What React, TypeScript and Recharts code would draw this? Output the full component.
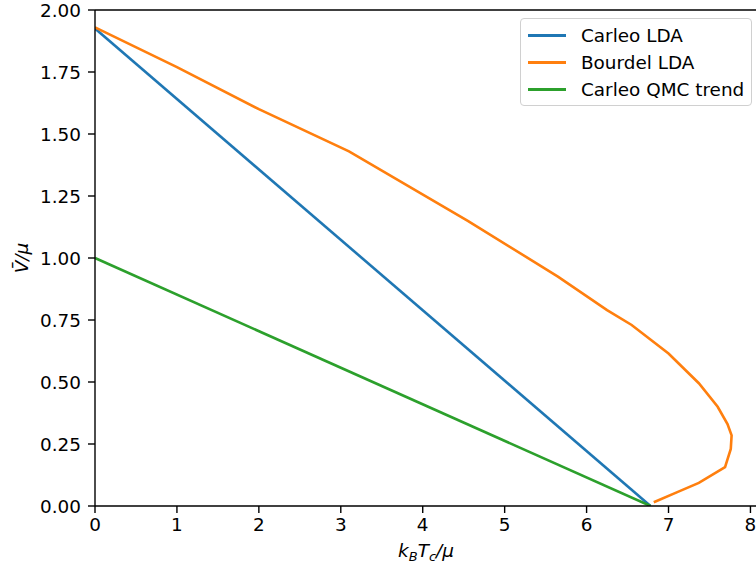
import React from "react";
import { LineChart, Line, XAxis, YAxis, ReferenceLine } from "recharts";

const X_TICKS = [0, 1, 2, 3, 4, 5, 6, 7, 8];
const Y_TICKS = [0, 0.25, 0.5, 0.75, 1.0, 1.25, 1.5, 1.75, 2.0];

const carleoLdaX = [0, 6.78];
const carleoLdaY = [1.925, 0];

const carleoQmcX = [0, 6.78];
const carleoQmcY = [1.0, 0];

const bourdelX = [0, 1.0, 2.0, 3.1, 4.55, 5.65, 6.25, 6.55, 7.0, 7.37, 7.6, 7.72, 7.77, 7.76, 7.69, 7.37, 7.1, 6.82];
const bourdelY = [1.93, 1.77, 1.6, 1.43, 1.15, 0.925, 0.79, 0.73, 0.615, 0.495, 0.4, 0.33, 0.285, 0.23, 0.157, 0.093, 0.055, 0.015];

const SERIES = [
  { name: "Carleo LDA", color: "#1f77b4", xs: carleoLdaX, ys: carleoLdaY },
  { name: "Bourdel LDA", color: "#ff7f0e", xs: bourdelX, ys: bourdelY },
  { name: "Carleo QMC trend", color: "#2ca02c", xs: carleoQmcX, ys: carleoQmcY },
];

const toPoints = (xs: number[], ys: number[]) => xs.map((x, i) => ({ x, y: ys[i] }));

const FONT = "DejaVu Sans";
const FS = 18.4;

const LegendBox = () => (
  <div
    style={{
      position: "absolute",
      left: 520,
      top: 18,
      width: 232,
      height: 88,
      border: "1px solid #d0d0d0",
      borderRadius: 4,
      background: "rgba(255,255,255,0.8)",
      padding: "3px 0 0 7px",
      fontFamily: FONT,
      fontSize: FS,
      color: "#000",
      boxSizing: "border-box",
      lineHeight: "27px",
    }}
  >
    {SERIES.map((s) => (
      <div key={s.name} style={{ display: "flex", alignItems: "center", height: 27, whiteSpace: "nowrap" }}>
        <div style={{ width: 38, height: 2.6, background: s.color, marginRight: 15 }} />
        <span>{s.name}</span>
      </div>
    ))}
  </div>
);

export default function App() {
  return (
    <div style={{ position: "absolute", left: 0, top: 0, width: 756, height: 570, overflow: "hidden", background: "#fff" }}>
      <LineChart width={770} height={570} margin={{ top: 10, right: 13, bottom: 0, left: 0 }}>
        <XAxis
          type="number"
          dataKey="x"
          domain={[0, 8.08]}
          ticks={X_TICKS}
          allowDataOverflow
          stroke="#000"
          tickSize={7}
          tickMargin={5}
          height={64}
          tick={{ fill: "#000", fontSize: FS, fontFamily: FONT }}
          axisLine={{ stroke: "#000", strokeWidth: 1.4 }}
          tickLine={{ stroke: "#000", strokeWidth: 1.4 }}
          label={{
            content: () => (
              <text x={426} y={557} textAnchor="middle" fontFamily={FONT} fontSize={FS} fontStyle="italic" fill="#000">
                k<tspan fontSize={13} dy={4}>B</tspan>
                <tspan dy={-4}>T</tspan>
                <tspan fontSize={13} dy={4}>c</tspan>
                <tspan dy={-4}>/μ</tspan>
              </text>
            ),
          }}
        />
        <YAxis
          type="number"
          domain={[0, 2]}
          ticks={Y_TICKS}
          allowDataOverflow
          width={95}
          stroke="#000"
          tickSize={7}
          tickMargin={7}
          tickFormatter={(v: number) => v.toFixed(2)}
          tick={{ fill: "#000", fontSize: FS, fontFamily: FONT }}
          axisLine={{ stroke: "#000", strokeWidth: 1.4 }}
          tickLine={{ stroke: "#000", strokeWidth: 1.4 }}
          label={{
            content: () => (
              <text
                x={28}
                y={258}
                transform="rotate(-90 28 258)"
                textAnchor="middle"
                fontFamily={FONT}
                fontSize={FS}
                fontStyle="italic"
                fill="#000"
              >
                V̄/μ
              </text>
            ),
          }}
        />
        <ReferenceLine y={2} stroke="#000" strokeWidth={1.4} ifOverflow="extendDomain" />
        {SERIES.map((s) => (
          <Line
            key={s.name}
            name={s.name}
            data={toPoints(s.xs, s.ys)}
            dataKey="y"
            type="linear"
            stroke={s.color}
            strokeWidth={2.6}
            dot={false}
            activeDot={false}
            isAnimationActive={false}
          />
        ))}
      </LineChart>
      <LegendBox />
    </div>
  );
}
